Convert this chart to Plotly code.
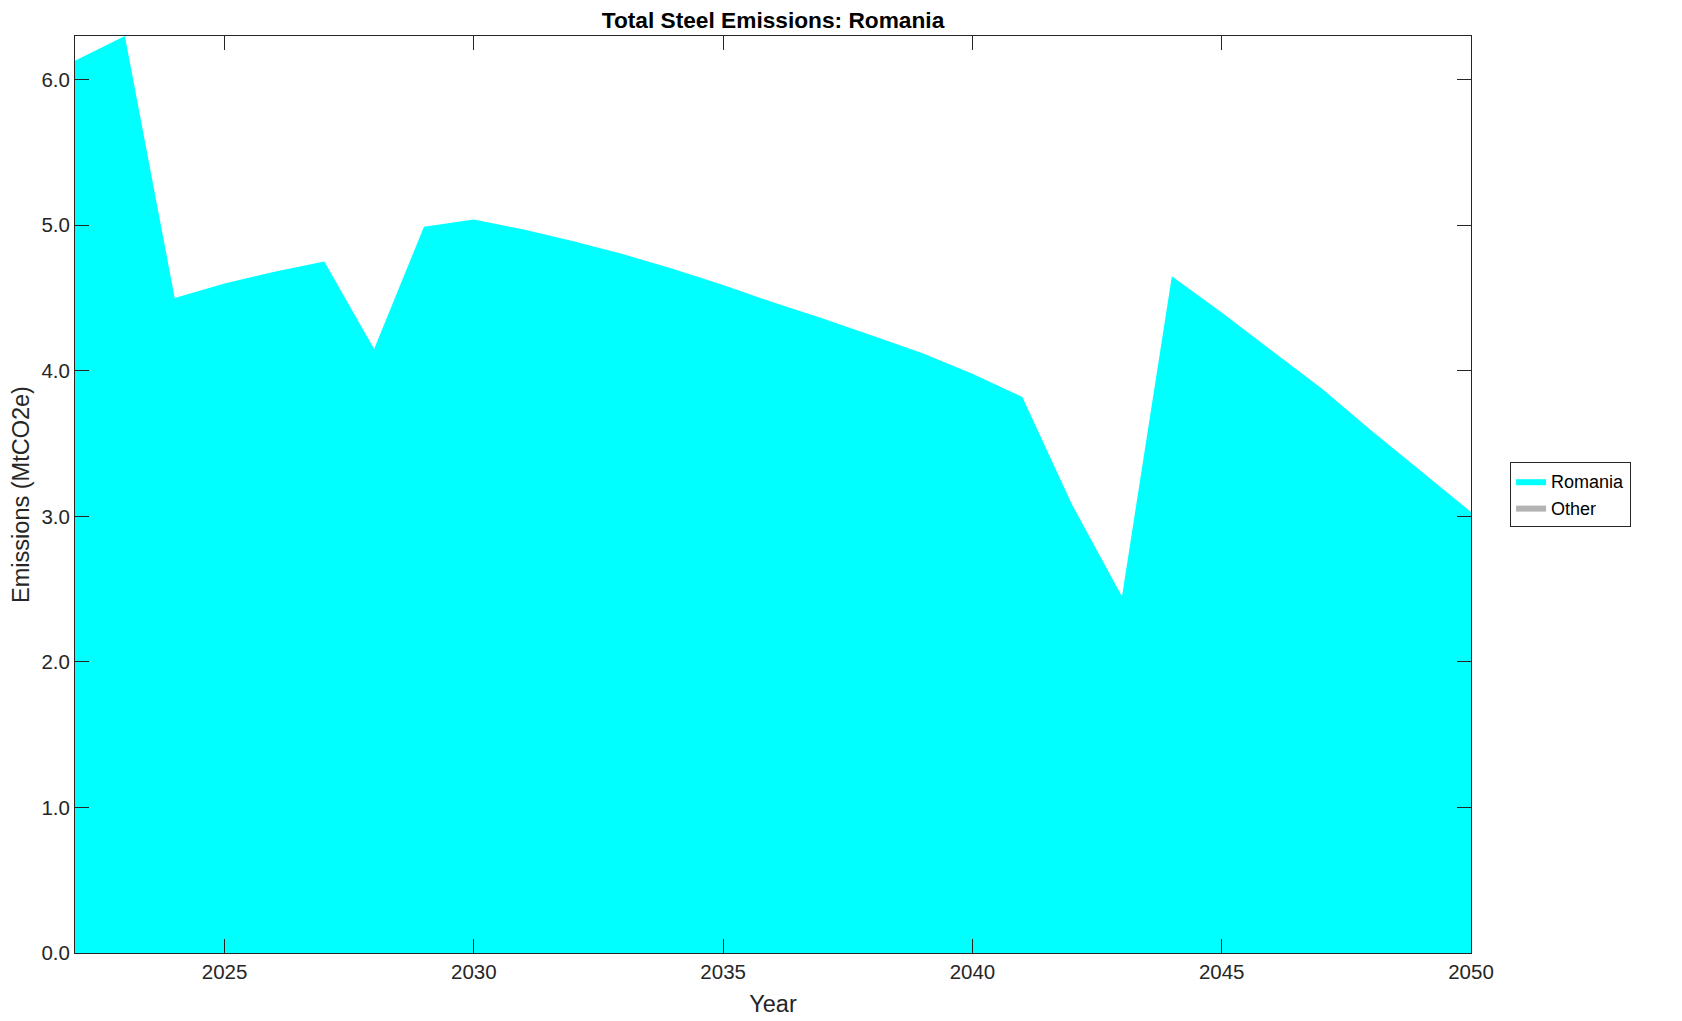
import plotly.graph_objects as go

years = list(range(2022, 2051))
romania = [6.13, 6.30, 4.50, 4.60, 4.68, 4.75, 4.15, 4.99, 5.04, 4.97,
           4.89, 4.80, 4.70, 4.59, 4.47, 4.36, 4.24, 4.12, 3.98, 3.82,
           3.08, 2.45, 4.65, 4.40, 4.14, 3.88, 3.59, 3.31, 3.03]
other = [0.0] * len(years)

series_names = ["Romania", "Other"]
series_colors = ["#00ffff", "#b3b3b3"]
series_values = [romania, other]

x_ticks = [2025, 2030, 2035, 2040, 2045, 2050]
y_ticks = [0, 1, 2, 3, 4, 5, 6]

FONT = "Liberation Sans, Arial, Helvetica, sans-serif"
AX = "#262626"

fig = go.Figure()
for name, color, vals in zip(series_names, series_colors, series_values):
    fig.add_trace(go.Scatter(
        x=years, y=vals, name=name, mode="lines",
        stackgroup="one", line=dict(width=0, color=color),
        fillcolor=color, hoverinfo="x+y+name",
    ))

axis_common = dict(
    showline=True, linecolor=AX, linewidth=1, mirror="allticks",
    ticks="inside", ticklen=14, tickwidth=1, tickcolor=AX,
    showgrid=False, zeroline=False,
    tickfont=dict(family=FONT, size=20.5, color=AX),
)

L, R, T, B = 67, 219, 27.5, 76.4

fig.update_layout(
    width=1682, height=1021,
    paper_bgcolor="white", plot_bgcolor="white",
    margin=dict(l=L, r=R, t=T, b=B, autoexpand=False),
    font=dict(family=FONT, color=AX),
    title=dict(text="<b>Total Steel Emissions: Romania</b>",
               x=(L + (1682 - R)) / 2 / 1682, xanchor="center",
               y=1 - 12.5 / 1021, yanchor="middle", yref="container",
               font=dict(family=FONT, size=22.7, color="black")),
    xaxis=dict(range=[2022, 2050], tickvals=x_ticks,
               title=dict(text="Year", font=dict(family=FONT, size=23.5, color=AX), standoff=13),
               **axis_common),
    yaxis=dict(range=[0, 6.3], tickvals=y_ticks, tickformat=".1f",
               title=dict(text="Emissions (MtCO2e)", font=dict(family=FONT, size=23.5, color=AX), standoff=8),
               **axis_common),
    legend=dict(x=1.028, xanchor="left", y=0.5, yanchor="middle",
                bordercolor=AX, borderwidth=1, bgcolor="white",
                font=dict(family=FONT, size=18, color="black"),
                traceorder="normal", tracegroupgap=0),
    showlegend=True,
)

fig.write_html("out.html")
